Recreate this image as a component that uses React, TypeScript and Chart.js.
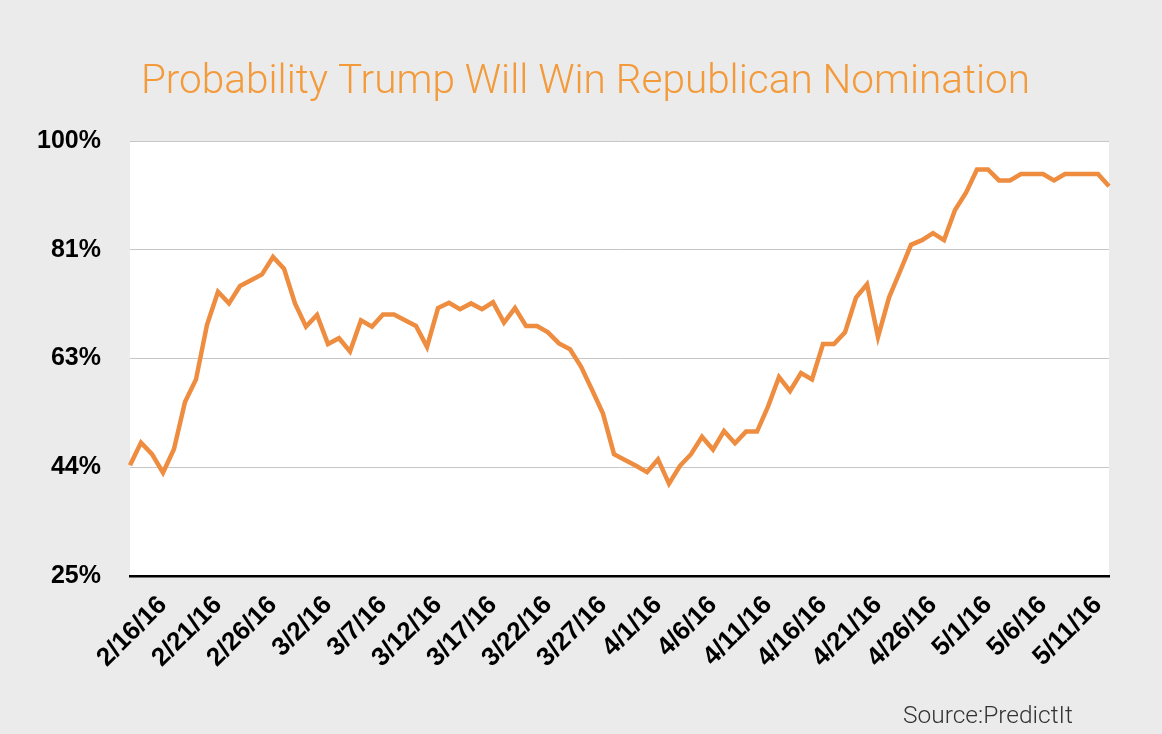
import React, { useEffect, useRef } from 'react';
import { Chart, registerables } from 'chart.js';

Chart.register(...registerables);

// Daily categories (2/13/16 .. 5/12/16)
const dates: string[] = [
  '2/13/16', '2/14/16', '2/15/16', '2/16/16', '2/17/16', '2/18/16', '2/19/16', '2/20/16', '2/21/16', '2/22/16',
  '2/23/16', '2/24/16', '2/25/16', '2/26/16', '2/27/16', '2/28/16', '2/29/16',
  '3/1/16', '3/2/16', '3/3/16', '3/4/16', '3/5/16', '3/6/16', '3/7/16', '3/8/16', '3/9/16', '3/10/16',
  '3/11/16', '3/12/16', '3/13/16', '3/14/16', '3/15/16', '3/16/16', '3/17/16', '3/18/16', '3/19/16', '3/20/16',
  '3/21/16', '3/22/16', '3/23/16', '3/24/16', '3/25/16', '3/26/16', '3/27/16', '3/28/16', '3/29/16', '3/30/16', '3/31/16',
  '4/1/16', '4/2/16', '4/3/16', '4/4/16', '4/5/16', '4/6/16', '4/7/16', '4/8/16', '4/9/16', '4/10/16',
  '4/11/16', '4/12/16', '4/13/16', '4/14/16', '4/15/16', '4/16/16', '4/17/16', '4/18/16', '4/19/16', '4/20/16',
  '4/21/16', '4/22/16', '4/23/16', '4/24/16', '4/25/16', '4/26/16', '4/27/16', '4/28/16', '4/29/16', '4/30/16',
  '5/1/16', '5/2/16', '5/3/16', '5/4/16', '5/5/16', '5/6/16', '5/7/16', '5/8/16', '5/9/16', '5/10/16',
  '5/11/16', '5/12/16',
];

// Probability (%) that Trump wins the nomination
const probability: number[] = [
  44.1, 48.0, 46.0, 42.8, 46.9, 55.0, 58.9, 68.3, 74.0, 72.0,
  75.0, 76.0, 77.0, 80.0, 78.0, 72.0, 68.0, 70.0, 65.0, 66.0,
  63.7, 69.1, 68.0, 70.1, 70.1, 69.1, 68.1, 64.5, 71.2, 72.1,
  71.0, 72.0, 71.0, 72.2, 68.7, 71.2, 68.1, 68.1, 67.0, 65.1,
  64.1, 61.1, 57.1, 53.0, 46.0, 45.0, 44.0, 42.9, 45.1, 40.9,
  44.0, 46.0, 49.0, 46.8, 50.0, 47.9, 49.9, 49.9, 54.2, 59.3,
  56.9, 60.0, 58.9, 65.0, 65.0, 67.0, 73.0, 75.3, 66.2, 73.0,
  77.5, 82.1, 82.9, 84.1, 82.9, 88.1, 91.1, 95.1, 95.1, 93.2,
  93.2, 94.3, 94.3, 94.3, 93.2, 94.3, 94.3, 94.3, 94.3, 92.2,
];

// Labels shown on the date axis
const tickLabels: string[] = [
  '2/16/16', '2/21/16', '2/26/16', '3/2/16', '3/7/16', '3/12/16', '3/17/16', '3/22/16', '3/27/16',
  '4/1/16', '4/6/16', '4/11/16', '4/16/16', '4/21/16', '4/26/16', '5/1/16', '5/6/16', '5/11/16',
];

const Y_MIN = 25;
const Y_MAX = 100;
const Y_STEP = 18.75;

const TITLE = 'Probability Trump Will Win Republican Nomination';
const SOURCE = 'Source:PredictIt';

export default function App() {
  const ref = useRef<HTMLCanvasElement>(null);

  useEffect(() => {
    document.body.style.margin = '0';
    document.body.style.background = '#ebebeb';

    const plotBg = {
      id: 'plotBg',
      beforeDraw(chart: any) {
        const { ctx, chartArea: a } = chart;
        ctx.save();
        ctx.fillStyle = '#ebebeb';
        ctx.fillRect(0, 0, chart.width, chart.height);
        ctx.fillStyle = '#ffffff';
        ctx.fillRect(a.left, a.top, a.right - a.left, a.bottom - a.top);
        ctx.restore();
      },
    };

    const textPlugin = {
      id: 'texts',
      afterDraw(chart: any) {
        const { ctx, chartArea: a } = chart;
        ctx.save();
        // title
        ctx.font = '300 40.5px Roboto, "Liberation Sans", sans-serif';
        ctx.fillStyle = '#f39a3b';
        ctx.textAlign = 'center';
        ctx.textBaseline = 'middle';
        ctx.fillText(TITLE, 585.5, 83.3);
        // source
        ctx.font = '300 24.5px Roboto, "Liberation Sans", sans-serif';
        ctx.fillStyle = '#333333';
        ctx.textAlign = 'right';
        ctx.textBaseline = 'alphabetic';
        ctx.fillText(SOURCE, a.right - 36, 723);
        ctx.restore();
      },
    };

    const chart = new Chart(ref.current as HTMLCanvasElement, {
      type: 'line',
      data: {
        labels: dates,
        datasets: [
          {
            data: probability,
            borderColor: '#ee8c40',
            backgroundColor: '#ee8c40',
            borderWidth: 4.5,
            pointRadius: 0,
            tension: 0,
            fill: false,
          },
        ],
      },
      options: {
        animation: false,
        responsive: false,
        layout: { padding: { left: 0, right: 53, top: 141, bottom: 0 } },
        plugins: {
          legend: { display: false },
          tooltip: { enabled: false },
          title: { display: false },
        },
        scales: {
          x: {
            type: 'category',
            grid: { display: false, drawTicks: false },
            border: { display: true, color: '#000000', width: 2.5 },
            ticks: {
              autoSkip: false,
              maxRotation: 45,
              minRotation: 45,
              padding: 14,
              color: '#000000',
              font: { family: '"Liberation Sans", Arial, sans-serif', size: 26, weight: 'bold' },
              callback: (_v: any, i: number) => (tickLabels.includes(dates[i]) ? dates[i] : null),
            },
            afterFit: (s: any) => {
              s.height = 158;
            },
          },
          y: {
            min: Y_MIN,
            max: Y_MAX,
            grid: { color: '#c6c6c6', lineWidth: 1, drawTicks: false },
            border: { display: false },
            ticks: {
              stepSize: Y_STEP,
              padding: 29,
              color: '#000000',
              font: { family: '"Liberation Sans", Arial, sans-serif', size: 25, weight: 'bold' },
              callback: (v: any) => Math.round(Number(v)) + '%',
            },
            afterFit: (s: any) => {
              s.width = 130;
            },
          },
        },
      },
      plugins: [plotBg, textPlugin],
    });

    return () => chart.destroy();
  }, []);

  return (
    <div style={{ width: 1162, height: 734, background: '#ebebeb' }}>
      <canvas ref={ref} width={1162} height={734} style={{ display: 'block' }} />
    </div>
  );
}
